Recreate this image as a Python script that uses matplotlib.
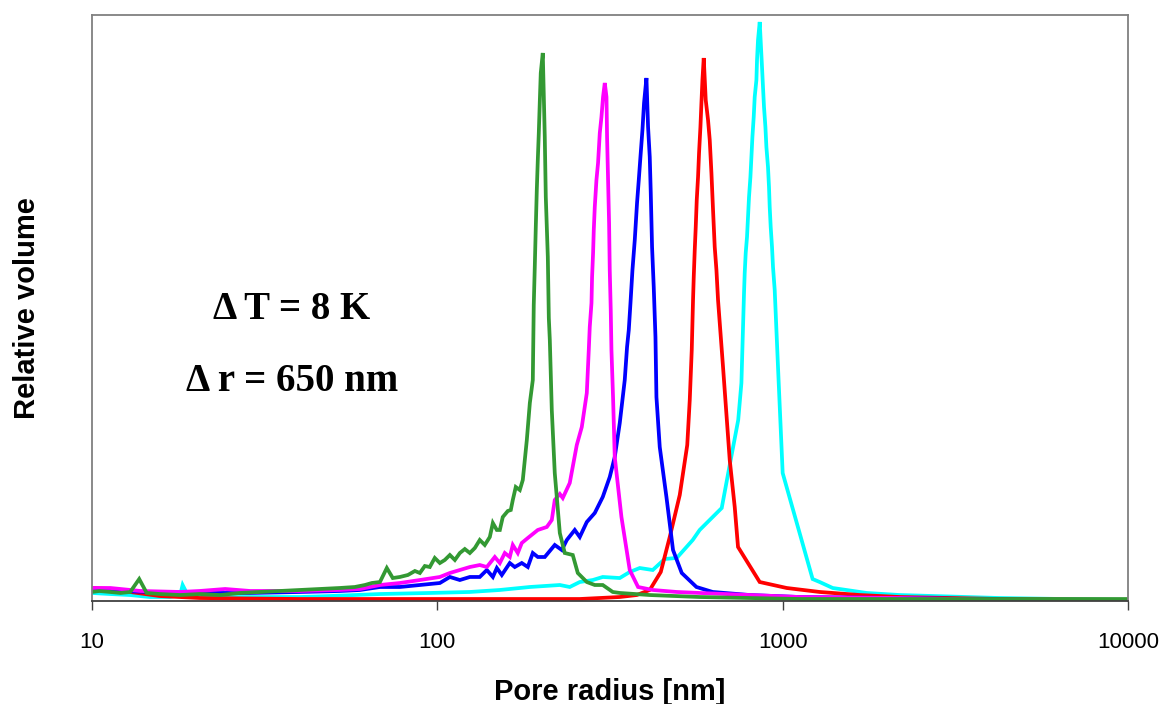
import numpy as np
import matplotlib
matplotlib.use('Agg')
import matplotlib.pyplot as plt
from matplotlib.ticker import FixedLocator, NullLocator

# pore radius [nm] and relative volume (top of axis = 100)
green_x = [10, 10.5, 11.3, 12.1, 12.9, 13.7, 14.4, 15.7, 18.0, 20.5,
           23.5, 26.8, 30.6, 35.0, 40.0, 45.7, 52.2, 57.7, 61.7, 64.6,
           68.2, 71.4, 74.3, 77.9, 82.2, 86.1, 89.0, 92.0, 95.1, 98.3,
           101.7, 105.1, 108.7, 112.4, 116.2, 120.1, 124.2, 128.4, 132.7, 137.2,
           141.9, 144.8, 148.7, 151.7, 154.7, 160.0, 163.2, 165.4, 168.7, 173.3,
           176.8, 181.6, 185.3, 189.0, 190.2, 191.5, 192.8, 194.1, 195.4, 196.7,
           198.0, 199.3, 202.0, 204.7, 206.1, 208.9, 210.3, 211.7, 214.5, 218.8,
           226.3, 233.9, 246.7, 255.1, 270.9, 285.7, 301.3, 322.1, 337.5, 411.9,
           575, 802.6, 1119, 2181, 4247, 10000]
green_y = [1.54, 1.71, 1.54, 1.37, 1.54, 3.75, 1.37, 1.19, 1.02, 1.19,
           1.02, 1.37, 1.54, 1.71, 1.88, 2.05, 2.22, 2.39, 2.73, 3.07,
           3.24, 5.63, 3.92, 4.10, 4.44, 5.12, 4.78, 5.97, 5.80, 7.34,
           6.48, 7.00, 7.85, 7.00, 8.19, 8.87, 8.19, 9.04, 10.41, 9.56,
           10.92, 13.31, 12.12, 12.12, 14.33, 15.36, 15.53, 17.24, 19.45, 18.94,
           20.65, 27.47, 33.79, 37.71, 50.51, 57.0, 63.82, 70.14, 75.26, 79.86,
           85.15, 90.10, 93.52, 79.18, 68.94, 58.70, 48.29, 44.54, 32.59, 21.84,
           11.60, 8.19, 7.85, 4.78, 3.24, 2.73, 2.73, 1.54, 1.37, 1.02,
           0.68, 0.51, 0.34, 0.34, 0.34, 0.34]

magenta_x = [10, 11.3, 13.8, 18.0, 20.5, 24.3, 28.7, 40.0, 52.2, 59.7,
             68.2, 77.9, 89.0, 101.7, 108.7, 116.2, 124.2, 132.7, 139.1, 146.7,
             151.7, 156.8, 162.1, 165.4, 171.0, 175.6, 182.8, 195.4, 207.5, 214.5,
             218.8, 226.3, 230.8, 241.8, 253.4, 262.0, 270.9, 274.5, 276.3, 279.5,
             280.6, 282.5, 283.8, 285.7, 288.9, 292.0, 295.4, 298.7, 301.9, 305.4,
             308.9, 310.1, 312.2, 314.3, 315.7, 317.8, 319.3, 322.7, 326.4, 341.3,
             360.7, 381.3, 420.5, 493.4, 575, 802.6, 1119, 2181, 4539]
magenta_y = [2.22, 2.22, 1.71, 1.54, 1.71, 2.05, 1.71, 1.71, 1.88, 2.05,
             2.73, 3.07, 3.58, 4.10, 4.78, 5.29, 5.80, 6.14, 5.80, 7.51,
             6.48, 8.19, 7.51, 9.56, 8.19, 9.90, 10.75, 12.12, 12.63, 13.82,
             17.24, 18.26, 17.58, 20.14, 26.62, 29.69, 35.49, 42.83, 46.76, 50.85,
             55.29, 59.39, 63.31, 67.24, 71.84, 74.74, 79.86, 82.59, 86.01, 88.40,
             86.01, 79.18, 71.84, 64.51, 56.48, 49.66, 42.83, 34.81, 24.57, 14.33,
             5.29, 2.39, 1.88, 1.54, 1.37, 1.02, 0.68, 0.51, 0.17]

blue_x = [10, 14.7, 20.5, 28.7, 40.0, 52.2, 59.7, 68.2, 77.9, 89.0,
          101.7, 108.7, 116.2, 124.2, 132.7, 139.1, 144.8, 148.7, 153.7, 162.1,
          167.6, 175.6, 182.8, 189.0, 195.4, 204.7, 218.8, 229.3, 237.1, 250.0,
          258.5, 270.9, 285.7, 301.3, 315.7, 326.4, 337.5, 348.9, 354.3, 358.4,
          362.5, 367.3, 373.0, 378.7, 383.1, 387.4, 392.6, 396.8, 403.2, 407.6,
          412.2, 415.0, 418.6, 423.3, 428.2, 431.0, 440.6, 460.7, 481.4, 510.2,
          562.7, 627.3, 802.6, 1119, 2181, 5544]
blue_y = [1.88, 1.54, 1.37, 1.37, 1.54, 1.71, 1.88, 2.39, 2.39, 2.73,
          3.07, 4.10, 3.58, 4.10, 4.10, 5.29, 4.10, 5.63, 4.44, 6.48,
          5.80, 6.48, 5.80, 8.19, 7.51, 7.51, 9.56, 8.70, 10.41, 12.12,
          10.92, 13.48, 15.02, 17.75, 21.16, 24.57, 30.38, 37.71, 43.34, 46.25,
          50.85, 56.48, 61.60, 67.92, 71.84, 75.77, 80.38, 84.98, 89.25, 80.89,
          75.77, 69.62, 60.41, 53.58, 45.05, 34.81, 26.28, 17.75, 8.70, 4.78,
          2.39, 1.54, 1.02, 0.68, 0.51, 0.17]

red_x = [10, 11.3, 12.9, 15.7, 20.5, 40.0, 77.9, 151.7, 258.5, 295.4,
         337.5, 378.0, 412.2, 443.6, 471.0, 503.5, 529.3, 538.2, 545.4, 550.1,
         552.7, 556.4, 560.1, 563.9, 568.8, 572.6, 577.9, 581.8, 585.7, 590.8,
         598.7, 608.0, 614.9, 621.9, 628.6, 635.7, 643.0, 649.9, 671.9, 702.6,
         726.4, 742.5, 858, 1027, 1280, 1671, 2181, 4247, 10000]
red_y = [2.22, 2.05, 1.54, 0.85, 0.51, 0.34, 0.34, 0.34, 0.34, 0.51,
         0.68, 1.02, 1.88, 4.95, 10.92, 18.09, 26.62, 34.30, 42.83, 51.37,
         55.29, 59.90, 63.82, 68.43, 72.35, 76.45, 80.89, 84.98, 88.91, 92.66,
         85.49, 82.08, 78.67, 73.04, 66.72, 60.41, 56.48, 51.37, 39.93, 24.06,
         16.04, 9.22, 3.24, 2.22, 1.54, 1.02, 0.68, 0.34, 0.17]

cyan_x = [10, 11.3, 12.9, 14.7, 16.8, 18.0, 18.3, 19.0, 20.5, 28.7,
          40.0, 48.9, 68.2, 95.1, 124.2, 151.7, 185.3, 226.3, 241.8, 258.5,
          281.9, 301.3, 337.5, 360.7, 385.6, 420.5, 455.5, 493.4, 549.0, 575,
          666.1, 702.6, 743.5, 759.5, 772.8, 776.4, 781.6, 788.4, 793.7, 799.0,
          806.5, 811.9, 817.3, 824.4, 829.9, 839.4, 842.8, 848.4, 858.1, 871.3,
          877.1, 883.0, 891.3, 897.2, 906.8, 912.9, 917.2, 923.3, 931.4, 937.6,
          948.3, 969.4, 1000, 1221, 1280, 1396, 1751, 2181, 4247, 10000]
cyan_y = [1.37, 1.19, 1.02, 0.68, 0.68, 1.02, 2.73, 0.85, 0.68, 0.68,
          0.68, 0.85, 1.19, 1.37, 1.54, 1.88, 2.39, 2.73, 2.39, 3.24,
          3.58, 4.10, 3.92, 4.95, 5.63, 5.29, 7.17, 7.34, 10.41, 12.12,
          15.87, 23.21, 30.89, 37.20, 52.56, 55.97, 59.39, 62.12, 65.53, 68.94,
          72.35, 75.77, 79.18, 82.59, 86.01, 88.91, 92.32, 95.73, 98.81, 91.13,
          87.71, 84.30, 80.89, 77.47, 74.06, 70.65, 67.24, 63.82, 60.41, 57.0,
          53.07, 39.93, 21.84, 3.75, 3.24, 2.22, 1.37, 1.02, 0.51, 0.17]

series = [
    (cyan_x, cyan_y, '#00FFFF'),
    (red_x, red_y, '#FF0000'),
    (blue_x, blue_y, '#0000FF'),
    (magenta_x, magenta_y, '#FF00FF'),
    (green_x, green_y, '#339933'),
]

fig = plt.figure(figsize=(11.65, 7.04), dpi=100)
ax = fig.add_axes([92 / 1165, 1 - 601 / 704, 1036 / 1165, 586 / 704])

for x, y, c in series:
    ax.plot(x, y, color=c, linewidth=2.7, solid_joinstyle='miter')

ax.set_xscale('log')
ax.set_xlim(10, 10000)
ax.set_ylim(0, 100)
ax.xaxis.set_major_locator(FixedLocator([10, 100, 1000, 10000]))
ax.xaxis.set_minor_locator(NullLocator())
ax.set_xticklabels(['10', '100', '1000', '10000'], fontsize=16,
                   family='Liberation Sans')
ax.tick_params(axis='x', direction='out', length=6.5, width=1.0,
               color='#404040', pad=16)
ax.set_yticks([])

for s in ax.spines.values():
    s.set_color('#808080')
    s.set_linewidth(1.3)
ax.spines['bottom'].set_color('#404040')

ax.set_xlabel('Pore radius [nm]', fontsize=21, fontweight='bold',
              family='Liberation Sans', labelpad=18)
ax.set_ylabel('Relative volume', fontsize=21, fontweight='bold',
              family='Liberation Sans', labelpad=37)

ax.text(0.193, 0.497, '\u0394 T = 8 K', transform=ax.transAxes,
        ha='center', va='center', fontsize=28, fontweight='bold',
        family='Liberation Serif')
ax.text(0.193, 0.375, '\u0394 r = 650 nm', transform=ax.transAxes,
        ha='center', va='center', fontsize=28, fontweight='bold',
        family='Liberation Serif')

fig.savefig('out.png', dpi=100)
